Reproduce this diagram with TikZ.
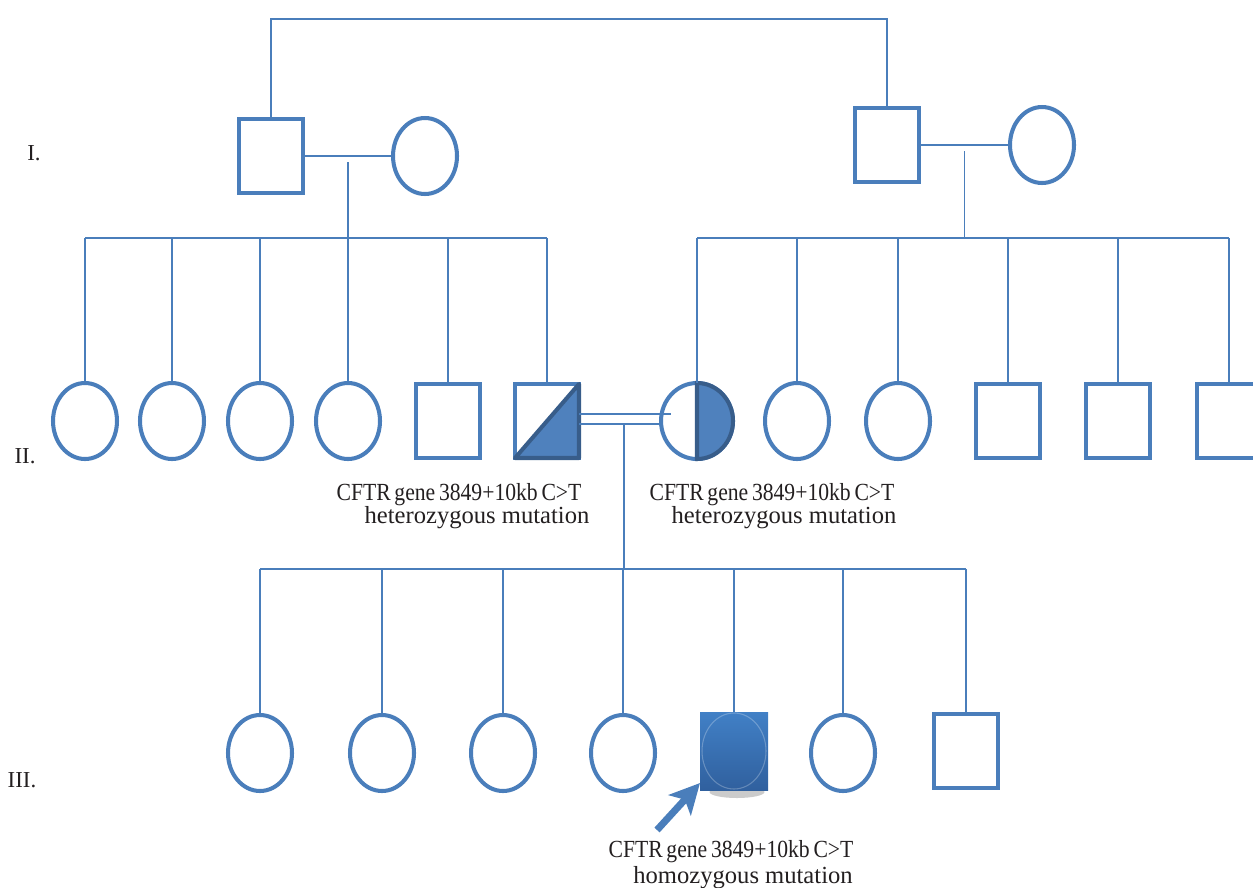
\documentclass[tikz,border=0pt]{standalone}
\usepackage{fontspec}
\setmainfont{Liberation Serif}
\newfontfamily\squeezed[FakeStretch=0.88]{Liberation Serif}
\usetikzlibrary{shapes.geometric, calc, arrows.meta}
\definecolor{pedblue}{HTML}{4A7EBB}
\definecolor{pedfill}{HTML}{4F81BD}
\definecolor{peddark}{HTML}{385D8A}
\definecolor{probtop}{HTML}{4180C6}
\definecolor{probmid}{HTML}{2B6AB0}
\definecolor{probbot}{HTML}{30609E}
\definecolor{ink}{HTML}{231F20}

\begin{document}
\begin{tikzpicture}[x=0.02cm, y=-0.02cm,
    link/.style={pedblue, line width=1.1pt},
    male/.style={draw=pedblue, line width=2.3pt, fill=white, minimum width=1.28cm,
      minimum height=1.48cm, inner sep=0pt, outer sep=0pt},
    female/.style={ellipse, draw=pedblue, line width=2.3pt, fill=white, minimum width=1.28cm,
      minimum height=1.52cm, inner sep=0pt, outer sep=0pt},
    note/.style={ink, font=\fontsize{14}{16}\selectfont, inner sep=0pt, anchor=base},
    gen/.style={ink, font=\fontsize{13}{15}\selectfont, inner sep=0pt, anchor=base}]
  \useasboundingbox (0,0) rectangle (1253,887);

  \node[gen] (g1) at (34,160) {I.};
  \node[gen] (g2) at (25,463) {II.};
  \node[gen] (g3) at (22,787) {III.};

  \node[male]   (m1) at (271,156) {};
  \node[female] (f1) at (425,156) {};
  \node[male]   (m2) at (887,145) {};
  \node[female] (f2) at (1042,145) {};
  \draw[link] (m1.north) -- ++(0,-100) -| (m2.north);
  \draw[link] (m1.east) -- (f1.west);
  \draw[link] (m2.east) -- (f2.west);
  \coordinate (u1) at ($(m1.east)!0.5!(f1.west)$);
  \coordinate (u2) at ($(m2.east)!0.5!(f2.west)$);

  \foreach \x/\name in {85/a, 172/b, 260/c, 348/d, 797/h, 898/i}
    \node[female] (\name) at (\x,421) {};
  \foreach \x/\name in {448/e, 547/p, 1008/j, 1118/k, 1229/l}
    \node[male] (\name) at (\x,421) {};
  \node[female, minimum width=1.44cm] (w) at (697,421) {};

  \filldraw[fill=pedfill, draw=peddark, line width=2.3pt, line join=round]
    (p.south west) -- (p.north east) -- (p.south east) -- cycle;
  \filldraw[fill=pedfill, draw=peddark, line width=2.3pt]
    (w.north) arc[start angle=90, end angle=-90, x radius=0.72cm, y radius=0.76cm] -- cycle;

  \coordinate (s1) at (0,238);
  \draw[link] (a.north |- s1) -- (p.north |- s1);
  \draw[link] (w.north |- s1) -- (l.north |- s1);
  \foreach \name in {a,b,c,d,e,p,w,h,i,j,k,l}
    \draw[link] (\name.north) -- (\name.north |- s1);
  \draw[link] ([yshift=-0.12cm]u1) -- (u1 |- s1);
  \draw[link] ([yshift=-0.12cm]u2) -- (u2 |- s1);

  \draw[link] ([yshift=0.14cm]p.east) -- ([yshift=0.14cm, xshift=0.2cm]w.west);
  \draw[link] ([yshift=-0.06cm]p.east) -- ([yshift=-0.06cm]w.west);
  \coordinate (u3) at ($([yshift=-0.06cm]p.east)!0.55!([yshift=-0.06cm]w.west)$);

  \node[note] (n1a) at (459,500) {\squeezed\spaceskip=0.15em\relax CFTR gene 3849+10kb C>T};
  \node[note] (n1b) at (477,523) {heterozygous mutation};
  \node[note] (n2a) at (772,500) {\squeezed\spaceskip=0.15em\relax CFTR gene 3849+10kb C>T};
  \node[note] (n2b) at (784,523) {heterozygous mutation};

  \foreach \x/\name in {260/q, 382/r, 503/s, 623/t, 843/v}
    \node[female] (\name) at (\x,753) {};
  \node[male] (z) at (966,751) {};
  \fill[black!45, opacity=0.45] (737,792) ellipse [x radius=0.55cm, y radius=0.12cm];
  \node[minimum width=1.36cm, minimum height=1.56cm, inner sep=0pt, outer sep=0pt,
    top color=probtop, middle color=probmid, bottom color=probbot] (pr) at (734,751) {};
  \draw[white, opacity=0.25, line width=0.6pt] (pr.center) ellipse [x radius=0.64cm, y radius=0.76cm];

  \coordinate (s3) at (0,569);
  \draw[link] (q.north |- s3) -- (z.north |- s3);
  \foreach \name in {q,r,s,t,pr,v,z}
    \draw[link] (\name.north) -- (\name.north |- s3);
  \draw[link] (u3) -- (u3 |- s3);

  \coordinate (tail) at (657,830);
  \draw[pedblue, line width=4pt, -{Stealth[length=0.6cm, width=0.6cm, inset=0.15cm]}]
    (tail) -- ([yshift=0.14cm]pr.south west);

  \node[note] (n3a) at (731,857) {\squeezed\spaceskip=0.15em\relax CFTR gene 3849+10kb C>T};
  \node[note] (n3b) at (743,883) {homozygous mutation};
\end{tikzpicture}
\end{document}
